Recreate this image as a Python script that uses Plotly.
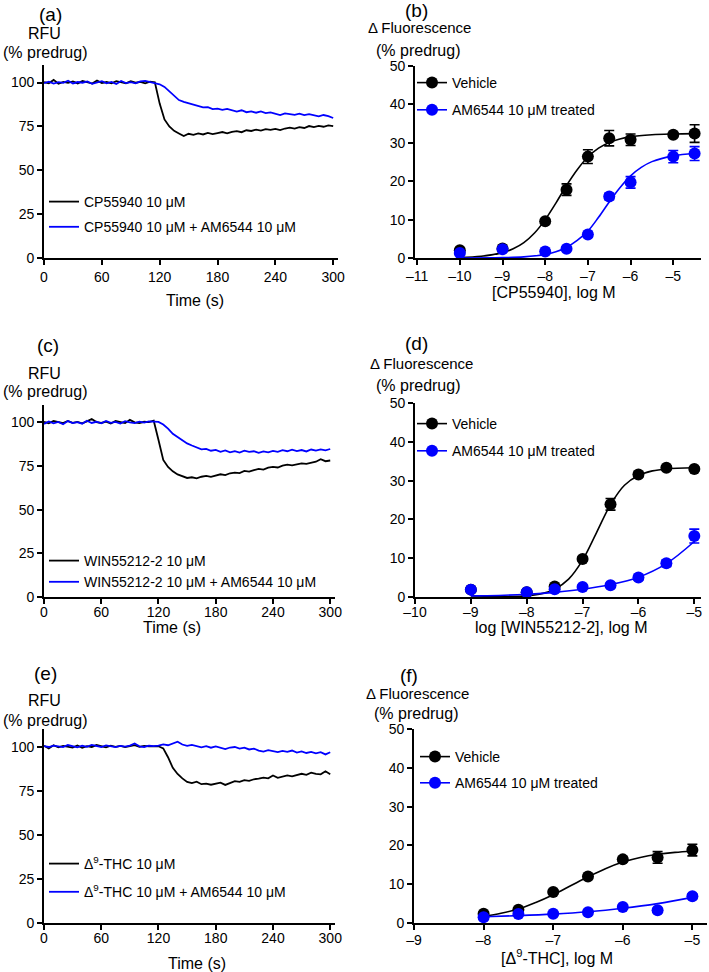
import plotly.graph_objects as go

W, H = 709, 972
BLACK = '#000000'
BLUE = '#0000FF'
FONT = 'Arial, Liberation Sans, sans-serif'

# ---- time courses (RFU, % predrug), sampled every 5 s ----
time_s = [0, 5, 10, 15, 20, 25, 30, 35, 40, 45, 50, 55, 60, 65, 70, 75, 80, 85, 90, 95,
          100, 105, 110, 115, 120, 125, 130, 135, 140, 145, 150, 155, 160, 165, 170, 175,
          180, 185, 190, 195, 200, 205, 210, 215, 220, 225, 230, 235, 240, 245, 250, 255,
          260, 265, 270, 275, 280, 285, 290, 295, 300]

a_cp = [100.2, 99.6, 101.5, 99.3, 100.4, 99.8, 100.6, 99.5, 100.9, 100.1, 99.4, 101.2,
        99.7, 100.3, 99.6, 100.8, 100.0, 99.5, 100.7, 99.9, 100.4, 99.6, 100.5, 100.1,
        88.0, 79.0, 75.0, 72.5, 71.0, 69.5, 70.8, 70.2, 71.0, 70.4, 71.3, 70.6, 71.2, 71.8,
        71.0, 71.9, 72.3, 71.7, 72.8, 72.4, 73.2, 72.6, 73.4, 73.0, 73.6, 72.9, 73.8, 74.3,
        73.7, 74.6, 74.1, 75.2, 74.6, 75.3, 74.8, 75.6, 75.1]
a_cp_am = [99.7, 100.5, 99.4, 100.2, 99.8, 101.0, 99.5, 100.3, 99.9, 100.6, 99.3, 100.1,
           100.8, 99.6, 100.4, 99.2, 100.9, 99.7, 100.2, 99.5, 100.7, 101.0, 100.3, 99.8,
           99.0, 97.5, 95.0, 92.5, 90.0, 89.0, 88.3, 87.2, 86.5, 85.8, 86.0, 84.9, 85.1, 84.4,
           85.0, 84.0, 83.4, 84.2, 83.1, 83.6, 82.8, 83.5, 82.6, 83.0, 82.2, 81.5, 82.4, 82.0,
           81.6, 82.3, 81.4, 82.0, 81.2, 80.7, 81.5, 80.9, 79.8]

c_win = [100.4, 99.5, 100.8, 100.1, 99.6, 100.9, 99.8, 100.3, 99.5, 100.6, 102.0, 100.2,
         99.7, 100.5, 99.4, 100.8, 100.0, 99.6, 101.5, 100.1, 99.7, 100.4, 100.2, 101.0,
         90.0, 78.5, 74.5, 72.0, 70.2, 69.0, 68.2, 68.6, 68.0, 68.9, 69.4, 68.8, 69.6, 70.3,
         69.8, 70.9, 71.3, 71.0, 72.2, 71.8, 72.7, 73.4, 73.0, 74.1, 74.6, 74.2, 75.3, 75.8,
         75.4, 76.2, 76.6, 76.3, 77.0, 77.5, 78.9, 77.8, 78.2]
c_win_am = [99.2, 100.6, 99.5, 100.3, 99.0, 100.8, 99.6, 100.2, 99.3, 101.0, 99.7, 100.4,
            99.5, 100.9, 99.8, 100.3, 99.4, 100.7, 100.1, 99.6, 100.5, 99.9, 100.6, 100.4,
            100.3, 98.8, 96.5, 93.5, 91.5, 89.6, 88.0, 86.8, 85.5, 84.6, 84.9, 83.8, 84.3, 83.2,
            84.0, 82.9, 83.6, 82.7, 83.8, 83.1, 83.5, 82.6, 83.4, 82.9, 83.7, 83.2, 84.1, 83.5,
            84.4, 83.6, 84.2, 83.4, 84.5, 83.9, 84.6, 84.0, 84.8]

e_thc = [100.5, 99.0, 100.8, 99.6, 100.4, 100.0, 99.5, 100.7, 99.3, 100.3, 99.8, 100.9,
         100.2, 99.6, 100.6, 99.9, 100.4, 99.7, 100.3, 100.8, 99.9, 100.4, 100.1, 100.3,
         100.2, 99.0, 94.0, 88.0, 84.5, 82.0, 80.0, 79.3, 80.1, 78.7, 79.0, 78.4, 79.2, 79.6,
         78.3, 79.5, 80.4, 80.0, 81.0, 80.6, 81.5, 81.9, 82.4, 82.0, 83.6, 82.3, 83.0, 83.7,
         83.2, 84.1, 84.6, 84.0, 85.2, 84.5, 84.3, 86.0, 84.4]
e_thc_am = [100.3, 99.8, 100.6, 100.1, 99.7, 100.9, 100.2, 99.6, 100.5, 99.9, 101.0, 100.3,
            99.8, 100.7, 100.1, 99.7, 100.4, 100.0, 100.6, 101.8, 100.2, 99.8, 100.5, 100.3,
            100.6, 101.3, 100.8, 102.0, 102.8, 101.2, 100.4, 101.0, 100.2, 99.6, 100.3, 99.4,
            100.1, 99.2, 98.6, 99.5, 99.8, 98.9, 99.4, 98.4, 98.9, 97.8, 97.2, 98.0, 97.5, 96.9,
            97.6, 97.0, 97.8, 96.6, 97.3, 96.4, 97.0, 96.2, 96.9, 95.6, 96.8]

rfu_ticks = [0, 25, 50, 75, 100]
time_ticks = [0, 60, 120, 180, 240, 300]

# ---- concentration-response data (mean, SEM) ----
b_dose = [-10, -9, -8, -7.5, -7, -6.5, -6, -5, -4.5]
b_veh = [2.0, 2.5, 9.6, 17.8, 26.4, 31.2, 30.8, 32.1, 32.4]
b_veh_err = [0.4, 0.4, 0.5, 1.5, 1.8, 2.0, 1.5, 0.6, 2.3]
b_am = [1.3, 2.3, 1.7, 2.4, 6.1, 16.0, 19.7, 26.4, 27.2]
b_am_err = [0.3, 0.3, 0.3, 0.4, 0.6, 0.8, 1.5, 1.6, 1.8]
b_fit_veh_x = [-10, -9.5, -9, -8.75, -8.5, -8.25, -8, -7.75, -7.5, -7.25, -7, -6.75,
               -6.5, -6.25, -6, -5.5, -5, -4.5]
b_fit_veh = [0.14, 0.45, 1.4, 2.4, 4.0, 6.5, 10.0, 14.3, 18.9, 23.0, 26.3, 28.6,
             30.1, 31.0, 31.6, 32.1, 32.3, 32.4]
b_fit_am_x = [-10, -9, -8.5, -8, -7.75, -7.5, -7.25, -7, -6.75, -6.5, -6.25, -6, -5.75,
              -5.5, -5, -4.5]
b_fit_am = [0.0, 0.1, 0.3, 0.9, 1.6, 2.8, 4.6, 7.0, 10.6, 14.6, 18.3, 21.4, 23.6,
            25.1, 26.6, 27.2]
b_ticks = [-11, -10, -9, -8, -7, -6, -5]

d_dose = [-9, -8, -7.5, -7, -6.5, -6, -5.5, -5]
d_veh = [1.9, 1.2, 2.7, 9.8, 23.9, 31.6, 33.3, 33.0]
d_veh_err = [0.3, 0.3, 0.4, 0.6, 1.5, 0.6, 0.5, 0.5]
d_am = [1.9, 1.2, 2.0, 2.6, 3.0, 5.0, 8.7, 15.7]
d_am_err = [0.3, 0.3, 0.3, 0.4, 0.5, 0.6, 0.8, 1.8]
d_fit_veh_x = [-9, -8.5, -8, -7.75, -7.5, -7.25, -7, -6.75, -6.5, -6.25, -6, -5.75, -5.5, -5]
d_fit_veh = [0.0, 0.1, 0.3, 0.8, 2.0, 4.6, 9.5, 16.6, 23.8, 28.8, 31.3, 32.5, 33.0, 33.3]
d_fit_am_x = [-9, -8.5, -8, -7.5, -7, -6.5, -6, -5.5, -5]
d_fit_am = [0.3, 0.4, 0.7, 1.2, 2.0, 3.2, 5.1, 8.6, 14.3]
d_ticks = [-10, -9, -8, -7, -6, -5]

f_dose = [-8, -7.5, -7, -6.5, -6, -5.5, -5]
f_veh = [2.4, 3.4, 8.0, 12.0, 16.4, 16.9, 18.8]
f_veh_err = [0.3, 0.4, 0.5, 0.5, 0.6, 1.5, 1.5]
f_am = [1.5, 2.3, 2.4, 2.8, 4.1, 3.3, 6.9]
f_am_err = [0.3, 0.3, 0.3, 0.3, 0.4, 0.5, 0.6]
f_fit_veh_x = [-8, -7.75, -7.5, -7.25, -7, -6.75, -6.5, -6.25, -6, -5.75, -5.5, -5.25, -5]
f_fit_veh = [1.7, 2.5, 3.6, 5.3, 7.3, 9.6, 11.9, 14.0, 15.7, 16.9, 17.7, 18.2, 18.5]
f_fit_am_x = [-8, -7.5, -7, -6.5, -6, -5.5, -5]
f_fit_am = [1.6, 1.9, 2.3, 2.9, 3.8, 5.0, 6.6]
f_ticks = [-9, -8, -7, -6, -5]

fluo_ticks = [0, 10, 20, 30, 40, 50]


def neg(v):
    return str(v).replace('-', '\u2013')


def dom_x(l, r):
    return [l / W, r / W]


def dom_y(t, b):
    return [1 - b / H, 1 - t / H]


def axis(domain, rng, ticks, ticktext=None, standoff=0):
    return dict(
        domain=domain, range=rng, tickmode='array', tickvals=ticks,
        ticktext=ticktext if ticktext else [str(t) for t in ticks],
        showline=True, linecolor='black', linewidth=1.8,
        ticks='outside', ticklen=5, tickwidth=1.8, tickcolor='black',
        showgrid=False, zeroline=False, automargin=False,
        ticklabelstandoff=standoff,
        tickfont=dict(size=14, family=FONT, color='black'),
    )


def label(text, x, y, size=16):
    return dict(text=text, x=x / W, y=1 - y / H, xref='paper', yref='paper',
                showarrow=False, xanchor='center', yanchor='middle',
                font=dict(size=size, family=FONT, color='black'))


def leg(x, y, gap):
    return dict(x=x / W, y=1 - y / H, xanchor='left', yanchor='top',
                bgcolor='rgba(0,0,0,0)', borderwidth=0, traceorder='grouped',
                tracegroupgap=gap, font=dict(size=14, family=FONT, color='black'))


fig = go.Figure()

# time-course panels (a), (c), (e)
traces = [
    (1, 'legend', a_cp, a_cp_am, 'CP55940 10 \u03bcM', 'CP55940 10 \u03bcM + AM6544 10 \u03bcM'),
    (3, 'legend3', c_win, c_win_am, 'WIN55212-2 10 \u03bcM',
     'WIN55212-2 10 \u03bcM + AM6544 10 \u03bcM'),
    (5, 'legend5', e_thc, e_thc_am, '\u0394<sup>9</sup>-THC 10 \u03bcM',
     '\u0394<sup>9</sup>-THC 10 \u03bcM + AM6544 10 \u03bcM'),
]
for k, lg, ag, comb, n1, n2 in traces:
    xa, ya = ('x', 'y') if k == 1 else ('x%d' % k, 'y%d' % k)
    fig.add_trace(go.Scatter(x=time_s, y=ag, mode='lines', name=n1, xaxis=xa, yaxis=ya,
                             line=dict(color=BLACK, width=1.8), legend=lg,
                             legendgroup='g%d1' % k))
    fig.add_trace(go.Scatter(x=time_s, y=comb, mode='lines', name=n2, xaxis=xa, yaxis=ya,
                             line=dict(color=BLUE, width=1.8), legend=lg,
                             legendgroup='g%d2' % k))

# concentration-response panels (b), (d), (f)
curves = [
    (2, b_dose, b_veh, b_veh_err, b_am, b_am_err, b_fit_veh_x, b_fit_veh, b_fit_am_x, b_fit_am),
    (4, d_dose, d_veh, d_veh_err, d_am, d_am_err, d_fit_veh_x, d_fit_veh, d_fit_am_x, d_fit_am),
    (6, f_dose, f_veh, f_veh_err, f_am, f_am_err, f_fit_veh_x, f_fit_veh, f_fit_am_x, f_fit_am),
]
for k, dose, veh, veh_e, am, am_e, fvx, fv, fax, fa in curves:
    xa, ya = 'x%d' % k, 'y%d' % k
    lg = 'legend%d' % k
    for col, y, e, fx, fy, nm in [(BLACK, veh, veh_e, fvx, fv, 'Vehicle'),
                                  (BLUE, am, am_e, fax, fa, 'AM6544 10 \u03bcM treated')]:
        fig.add_trace(go.Scatter(x=fx, y=fy, mode='lines', line=dict(color=col, width=1.6,
                                 shape='spline'), xaxis=xa, yaxis=ya, showlegend=False,
                                 hoverinfo='skip'))
        fig.add_trace(go.Scatter(x=dose, y=y, mode='markers', xaxis=xa, yaxis=ya,
                                 marker=dict(color=col, size=12, line=dict(width=0)),
                                 error_y=dict(type='data', array=e, color=col,
                                              thickness=1.6, width=5),
                                 showlegend=False, cliponaxis=False))
        fig.add_trace(go.Scatter(x=[None], y=[None], mode='lines+markers', name=nm,
                                 xaxis=xa, yaxis=ya, legend=lg, legendgroup='h%d%s' % (k, nm),
                                 marker=dict(color=col, size=12),
                                 line=dict(color=col, width=1.6)))

layout = dict(
    width=W, height=H, margin=dict(l=0, r=0, t=0, b=0, pad=0, autoexpand=False),
    plot_bgcolor='white', paper_bgcolor='white',
    font=dict(family=FONT, color='black'),
    xaxis=axis(dom_x(44, 338), [0, 305], time_ticks),
    yaxis=axis(dom_y(65, 258), [0, 110], rfu_ticks),
    xaxis2=axis(dom_x(415, 701), [-11.05, -4.35], b_ticks, [neg(t) for t in b_ticks], -1),
    yaxis2=axis(dom_y(66, 258), [0, 50], fluo_ticks),
    xaxis3=axis(dom_x(44, 335), [0, 305], time_ticks, None, -4),
    yaxis3=axis(dom_y(405, 597), [0, 110], rfu_ticks),
    xaxis4=axis(dom_x(415, 701), [-10, -4.88], d_ticks, [neg(t) for t in d_ticks], -4),
    yaxis4=axis(dom_y(403, 597), [0, 50], fluo_ticks),
    xaxis5=axis(dom_x(44, 335), [0, 305], time_ticks, None, -4),
    yaxis5=axis(dom_y(729, 923), [0, 110], rfu_ticks),
    xaxis6=axis(dom_x(414, 707), [-9, -4.79], f_ticks, [neg(t) for t in f_ticks], -2),
    yaxis6=axis(dom_y(729, 923), [0, 50], fluo_ticks),
    legend=leg(44, 186, 4),
    legend2=leg(412, 67, 6),
    legend3=leg(44, 545, 0),
    legend4=leg(412, 408, 6),
    legend5=leg(44, 848, 7),
    legend6=leg(415, 741, 5),
    showlegend=True,
)
for k in range(1, 7):
    sx = '' if k == 1 else str(k)
    layout['xaxis' + sx]['anchor'] = 'y' + sx
    layout['yaxis' + sx]['anchor'] = 'x' + sx
fig.update_layout(**layout)

fig.update_layout(annotations=[
    label('(a)', 50, 15, 19), label('RFU', 44, 33), label('(% predrug)', 45, 53),
    label('Time (s)', 195, 300),
    label('(b)', 416, 10, 19), label('\u0394 Fluorescence', 419, 28, 15),
    label('(% predrug)', 418, 50), label('[CP55940], log M', 554, 293),
    label('(c)', 48, 345, 19), label('RFU', 44, 373), label('(% predrug)', 45, 392),
    label('Time (s)', 172, 627),
    label('(d)', 416, 343, 19), label('\u0394 Fluorescence', 421, 363, 15),
    label('(% predrug)', 418, 385), label('log [WIN55212-2], log M', 561, 627),
    label('(e)', 45, 673, 19), label('RFU', 44, 700), label('(% predrug)', 45, 720),
    label('Time (s)', 197, 963),
    label('(f)', 409, 675, 19), label('\u0394 Fluorescence', 417, 693, 15),
    label('(% predrug)', 416, 713), label('[\u0394<sup>9</sup>-THC], log M', 557, 957),
])

# the default page body has an 8 px margin; drop it so the figure fills the window
fig.write_html("out.html", config={'displayModeBar': False},
               post_script="document.body.style.margin='0';")
